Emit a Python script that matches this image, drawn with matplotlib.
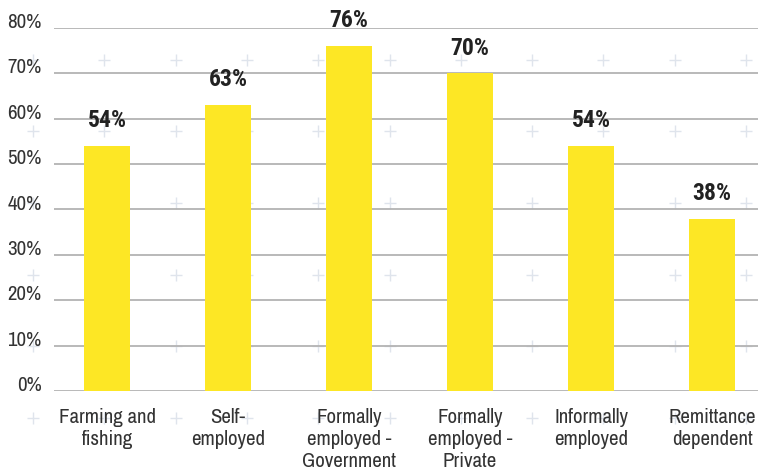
import matplotlib
matplotlib.use("Agg")
import matplotlib.pyplot as plt
import numpy as np

categories = ["Farming and\nfishing", "Self-\nemployed", "Formally\nemployed -\nGovernment",
              "Formally\nemployed -\nPrivate", "Informally\nemployed", "Remittance\ndependent"]
values = [54, 63, 76, 70, 54, 38]
yticks = [0, 10, 20, 30, 40, 50, 60, 70, 80]

plt.rcParams["font.family"] = ["Archivo Narrow", "DejaVu Sans"]
BOLD_FAMILY = ["Roboto Condensed", "Archivo Narrow", "DejaVu Sans"]

W, H = 758, 473
fig = plt.figure(figsize=(W / 100, H / 100), dpi=100)
fig.patch.set_facecolor("white")

# faint decorative plus-sign pattern behind the chart
bg = fig.add_axes([0, 0, 1, 1], zorder=0)
bg.set_xlim(0, W)
bg.set_ylim(H, 0)
bg.axis("off")
px = np.arange(33, W + 10, 71.3)
py = np.arange(60 - 71.5, H + 10, 71.5)
gx, gy = np.meshgrid(px, py)
bg.scatter(gx.ravel(), gy.ravel(), marker="+", s=70, linewidths=1.0, color="#dfe4ec", zorder=0)

ax = fig.add_axes([54 / W, 1 - 391 / H, 1 - 54 / W, (391 - 28) / H], zorder=1)
ax.patch.set_alpha(0)
x = np.arange(len(categories))
ax.bar(x, values, width=0.38, color="#fde725", zorder=3)
ax.set_ylim(0, 80)
ax.set_xlim(-0.44, 5.38)
ax.set_yticks(yticks)
ax.set_yticklabels([f"{v}%" for v in yticks])
for lab in ax.get_yticklabels():
    lab.set_verticalalignment("baseline")
ax.grid(axis="y", color="#b3b3b3", linewidth=1.3, zorder=1)
ax.set_axisbelow(True)
for s in ax.spines.values():
    s.set_visible(False)
ax.tick_params(axis="y", length=0, pad=9, labelsize=15, labelcolor="#333333")
ax.tick_params(axis="x", length=0, pad=12, labelsize=15, labelcolor="#333333")
ax.set_xticks(x)
ax.set_xticklabels(categories, linespacing=1.2)

for xi, v in zip(x, values):
    ax.annotate(f"{v}%", (xi, v), xytext=(0, 13.5), textcoords="offset points",
                ha="center", va="baseline", fontsize=17, fontweight="bold",
                family=BOLD_FAMILY, color="#222222")

fig.savefig("out.png", dpi=100)
